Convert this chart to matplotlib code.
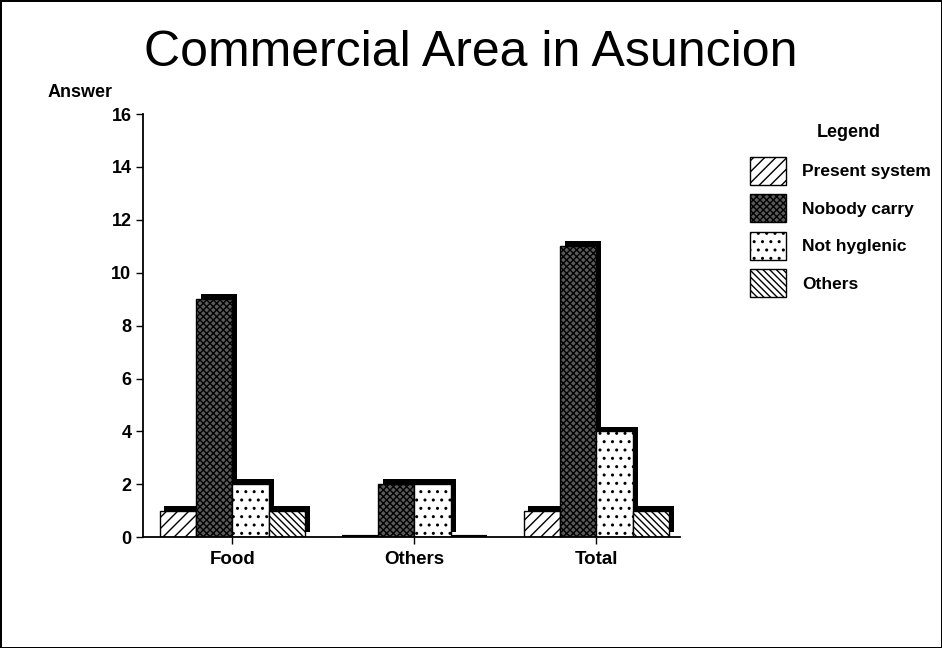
import matplotlib.pyplot as plt
import matplotlib.patheffects as pe
from matplotlib.patches import Patch
import numpy as np

plt.rcParams['font.family'] = ['Liberation Sans', 'DejaVu Sans']
plt.rcParams['hatch.linewidth'] = 1.0

groups = ['Food', 'Others', 'Total']
series = ['Present system', 'Nobody carry', 'Not hyglenic', 'Others']
present_system = [1, 0, 1]
nobody_carry = [9, 2, 11]
not_hyglenic = [2, 2, 4]
others = [1, 0, 1]
values = [present_system, nobody_carry, not_hyglenic, others]

faces = ['white', '#5a5a5a', 'white', 'white']
hatches = ['///', 'xxxxx', '..', '\\\\\\\\\\']

fig = plt.figure(figsize=(9.42, 6.48), dpi=100)
fig.patch.set_edgecolor('black')
fig.patch.set_linewidth(2)
ax = fig.add_axes([0.152, 0.171, 0.57, 0.653])

x = np.arange(len(groups))
w = 0.2
shadow = [pe.SimplePatchShadow(offset=(3.5, 3.5), shadow_rgbFace='black', alpha=1), pe.Normal()]
for i, vals in enumerate(values):
    bars = ax.bar(x + (i - 1.5) * w, vals, w, color=faces[i], hatch=hatches[i],
                  edgecolor='black', linewidth=1.0, zorder=2 + i * 0.01)
    for b in bars:
        b.set_path_effects(shadow)
        if b.get_height() == 0:
            b.set_linewidth(3)

ax.set_xlim(-0.49, 2.46)
ax.set_ylim(0, 16)
ax.set_yticks(range(0, 17, 2))
ax.set_xticks(x)
ax.set_xticklabels(groups, fontsize=13.5, fontweight='bold')
ax.tick_params(axis='x', length=5, width=1, pad=5)
ax.tick_params(axis='y', length=5, width=1, labelsize=13)
for lab in ax.get_yticklabels():
    lab.set_fontweight('bold')
for s in ['top', 'right']:
    ax.spines[s].set_visible(False)
ax.spines['left'].set_linewidth(1.3)
ax.spines['bottom'].set_linewidth(1.3)

fig.text(0.5, 0.898, 'Commercial Area in Asuncion', fontsize=36, ha='center', va='baseline')
fig.text(0.05, 0.858, 'Answer', fontsize=13, fontweight='bold', ha='left', va='center')

# legend title drawn on its own so the gap below it matches
fig.text(0.901, 0.795, 'Legend', fontsize=13, fontweight='bold', ha='center', va='center')
handles = [Patch(facecolor=faces[i], hatch=hatches[i], edgecolor='black', linewidth=1.0)
           for i in range(len(series))]
leg = fig.legend(handles=handles, labels=series, loc='upper left', bbox_to_anchor=(0.796, 0.758),
                 frameon=False, fontsize=12.5, handlelength=2.1, handleheight=2.1,
                 labelspacing=0.55, handletextpad=0.9, borderpad=0, borderaxespad=0)
for t in leg.get_texts():
    t.set_fontweight('bold')

fig.savefig('out.png', dpi=100)
